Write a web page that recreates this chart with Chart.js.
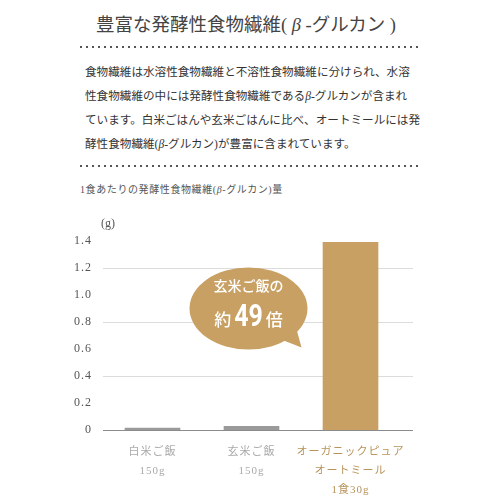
<!DOCTYPE html>
<html>
<head>
<meta charset="utf-8">
<script src="https://cdn.jsdelivr.net/npm/chart.js@4.4.1/dist/chart.umd.min.js"></script>
<style>
  html, body { margin: 0; padding: 0; background: #fff; }
  body { width: 500px; height: 500px; position: relative; overflow: hidden;
    font-family: 'Liberation Serif', 'Noto Sans CJK JP', serif; }
  .title { position: absolute; left: 0; width: 492px; top: 12px; text-align: center;
    font-size: 18.5px; line-height: 26px; color: #444; }
  .dots { position: absolute; left: 80px; height: 2px;
    background: repeating-linear-gradient(to right, #555 0 2px, transparent 2px 6px); }
  .lead { position: absolute; left: 85px; top: 61px; font-size: 11.6px; line-height: 24px; color: #333; white-space: nowrap; }
  .sub { position: absolute; left: 80px; top: 182px; font-size: 10px; line-height: 16px; color: #555; letter-spacing: 0.6px; white-space: nowrap; }
  .wrap { position: absolute; left: 0; top: 200px; width: 500px; height: 300px; }
</style>
</head>
<body>
<div class="title">豊富な発酵性食物繊維( <i>β</i> -グルカン )</div>
<div class="dots" style="top:46px;width:342px"></div>
<div class="lead">
食物繊維は水溶性食物繊維と不溶性食物繊維に分けられ、水溶<br>
性食物繊維の中には発酵性食物繊維である<i>β</i>-グルカンが含まれ<br>
ています。白米ごはんや玄米ごはんに比べ、オートミールには発<br>
酵性食物繊維(<i>β</i>-グルカン)が豊富に含まれています。
</div>
<div class="dots" style="top:165px;width:341px"></div>
<div class="sub">1食あたりの発酵性食物繊維(<i>β</i>-グルカン)量</div>
<div class="wrap"><canvas id="chart" width="500" height="300"></canvas></div>

<script>
const labels = [['白米ご飯', '150g'], ['玄米ご飯', '150g'], ['オーガニックピュア', 'オートミール', '1食30g']]
const values = [0.015, 0.028, 1.39]
const barColors = ['#9a9a9a', '#9a9a9a', '#c9a063']
const labelColors = ['#aaaaaa', '#aaaaaa', '#b8935a']
const yTicks = [0, 0.2, 0.4, 0.6, 0.8, 1.0, 1.2, 1.4]
const gridValues = [0, 0.4, 0.8, 1.2]
const unit = '(g)'
const calloutTop = '玄米ご飯の'
const calloutBottom = ['約', '49', '倍']

const gold = '#c9a063'
const jpFont = "'Liberation Serif', 'Noto Sans CJK JP', serif"

// wider letter spacing for the axis texts
const spacingPlugin = {
  id: 'spacing',
  beforeInit(chart) { chart.ctx.letterSpacing = '1px' },
  beforeDraw(chart) { chart.ctx.letterSpacing = '1px' }
}

// horizontal rules are drawn a little past the plot, like the reference
const gridPlugin = {
  id: 'gridLines',
  beforeDatasetsDraw(chart) {
    const { ctx, chartArea, scales } = chart
    ctx.save()
    gridValues.forEach(v => {
      const y = Math.round(scales.y.getPixelForValue(v)) + 0.5
      ctx.strokeStyle = v === 0 ? '#8c8c8c' : '#dcdcdc'
      ctx.lineWidth = v === 0 ? 1.2 : 1
      ctx.beginPath()
      ctx.moveTo(chartArea.left, y)
      ctx.lineTo(chartArea.right + 13, y)
      ctx.stroke()
    })
    ctx.restore()
  }
}

const extrasPlugin = {
  id: 'extras',
  afterDraw(chart) {
    const { ctx, chartArea, scales } = chart
    ctx.save()
    ctx.letterSpacing = '0px'
    // unit label
    ctx.fillStyle = '#555'
    ctx.font = '12px ' + jpFont
    ctx.textAlign = 'center'
    ctx.textBaseline = 'middle'
    ctx.fillText(unit, chartArea.left + 5, scales.y.getPixelForValue(1.4) - 17)

    // speech bubble
    const cx = scales.x.getPixelForValue(1) - 3
    const cy = scales.y.getPixelForValue(0.9)
    const rx = 59, ry = 41
    ctx.fillStyle = gold
    ctx.beginPath()
    ctx.ellipse(cx, cy, rx, ry, 0, 0, Math.PI * 2)
    ctx.fill()
    ctx.beginPath()
    ctx.moveTo(cx + 30, cy + 30)
    ctx.lineTo(cx + 53, cy + 39)
    ctx.lineTo(cx + 47, cy + 17)
    ctx.closePath()
    ctx.fill()

    ctx.fillStyle = '#fff'
    ctx.font = '500 14px "Noto Sans CJK JP"'
    ctx.fillText(calloutTop, cx, cy - 23)

    ctx.textAlign = 'left'
    ctx.font = '500 17px "Noto Sans CJK JP"'
    const w1 = ctx.measureText(calloutBottom[0]).width
    const w3 = ctx.measureText(calloutBottom[2]).width
    ctx.font = 'bold 32px "Roboto"'
    const w2 = ctx.measureText(calloutBottom[1]).width * 0.78
    const gap = 3
    let x = cx - (w1 + w2 + w3 + gap * 2) / 2
    const by = cy + 10
    ctx.font = '500 17px "Noto Sans CJK JP"'
    ctx.fillText(calloutBottom[0], x, by + 1)
    x += w1 + gap
    ctx.save()
    ctx.font = 'bold 32px "Roboto"'
    ctx.scale(0.78, 1)
    ctx.fillText(calloutBottom[1], x / 0.78, by - 1)
    ctx.restore()
    x += w2 + gap
    ctx.font = '500 17px "Noto Sans CJK JP"'
    ctx.fillText(calloutBottom[2], x, by + 1)
    ctx.restore()
  }
}

new Chart(document.getElementById('chart'), {
  type: 'bar',
  data: {
    labels: labels,
    datasets: [{
      data: values,
      backgroundColor: barColors,
      barThickness: 55,
      borderWidth: 0
    }]
  },
  options: {
    responsive: false,
    animation: false,
    events: [],
    layout: { padding: { top: 41, right: 100, left: 0, bottom: 0 } },
    plugins: { legend: { display: false }, tooltip: { enabled: false } },
    scales: {
      x: {
        grid: { display: false, drawTicks: false },
        border: { display: false },
        afterFit: s => { s.height = 70 },
        ticks: {
          autoSkip: false,
          maxRotation: 0,
          padding: 13,
          color: ctx => labelColors[ctx.index],
          font: { family: jpFont, size: 11, lineHeight: 1.7 }
        }
      },
      y: {
        min: 0,
        max: 1.4,
        afterFit: s => { s.width = 103 },
        afterBuildTicks: s => { s.ticks = yTicks.map(v => ({ value: v })) },
        grid: { display: false, drawTicks: false },
        border: { display: false },
        ticks: {
          padding: 11,
          color: '#555',
          font: { family: jpFont, size: 12 },
          callback: v => v === 0 ? '0' : v.toFixed(1)
        }
      }
    }
  },
  plugins: [spacingPlugin, gridPlugin, extrasPlugin]
})
</script>
</body>
</html>
